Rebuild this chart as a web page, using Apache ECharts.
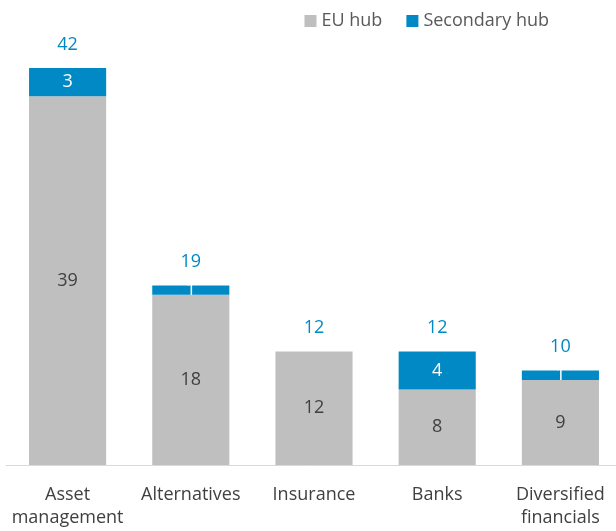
<!DOCTYPE html>
<html>
<head>
<meta charset="utf-8">
<script src="https://cdn.jsdelivr.net/npm/echarts@6/dist/echarts.min.js"></script>
<style>
  html, body { margin: 0; padding: 0; background: #fff; }
  #main { width: 616px; height: 531px; }
</style>
</head>
<body>
<div id="main"></div>
<script>
const categories = ['Asset\nmanagement', 'Alternatives', 'Insurance', 'Banks', 'Diversified\nfinancials']
const euHub = [39, 18, 12, 8, 9]
const secondaryHub = [3, 1, 0, 4, 1]
const totals = [42, 19, 12, 12, 10]

const font = '"Open Sans", Lato, sans-serif'
const fs = 18

const chart = echarts.init(document.getElementById('main'))

chart.setOption({
    animation: false,
    textStyle: {fontFamily: font},
    legend: {
        top: 7,
        right: 62,
        itemWidth: 12,
        itemHeight: 12,
        itemGap: 24,
        icon: 'rect',
        textStyle: {fontSize: fs, color: '#595959', fontFamily: font},
        data: ['EU hub', 'Secondary hub']
    },
    grid: {left: 6, width: 616, top: 68, height: 397, outerBoundsMode: 'none', containLabel: false},
    xAxis: {
        type: 'category',
        data: categories,
        axisLine: {lineStyle: {color: '#d9d9d9', width: 1}},
        axisTick: {show: false},
        axisLabel: {fontSize: fs, color: '#404040', margin: 18, lineHeight: 23, fontFamily: font, interval: 0}
    },
    yAxis: {
        type: 'value',
        min: 0,
        max: 42,
        show: false,
        splitLine: {show: false}
    },
    series: [
        {
            name: 'EU hub',
            type: 'bar',
            stack: 'hub',
            barWidth: '62.6%',
            itemStyle: {color: '#bfbfbf'},
            label: {show: true, position: 'inside', fontSize: fs, color: '#404040', fontFamily: font},
            data: euHub
        },
        {
            name: 'Secondary hub',
            type: 'bar',
            stack: 'hub',
            itemStyle: {color: '#0089c4'},
            label: {
                show: true, position: 'inside', fontSize: fs, color: '#fff', fontFamily: font,
                formatter: p => p.value ? p.value : ''
            },
            data: secondaryHub
        },
        {
            name: 'Total',
            type: 'line',
            symbol: 'circle',
            symbolSize: 1,
            showSymbol: true,
            clip: false,
            itemStyle: {color: 'rgba(0,0,0,0)'},
            lineStyle: {width: 0, color: 'rgba(0,0,0,0)'},
            label: {show: true, position: 'top', distance: 14, fontSize: fs, color: '#0089c4', fontFamily: font},
            data: totals,
            silent: true
        }
    ]
})
</script>
</body>
</html>
